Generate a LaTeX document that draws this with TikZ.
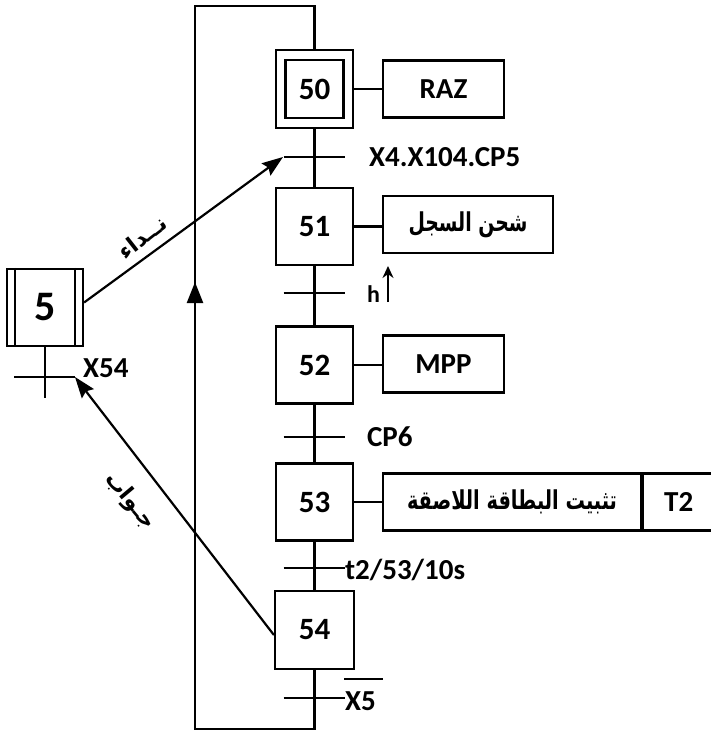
\documentclass[tikz,border=0pt]{standalone}
\usepackage{fontspec}
\setmainfont{Carlito}
\newfontfamily\arabicfont[Script=Arabic]{DejaVu Sans}
\TeXXeTstate=1
\usetikzlibrary{arrows.meta,calc}
\begin{document}
\begin{tikzpicture}[x=1pt,y=-1pt, line width=2.2pt,
 stepbox/.style={draw, minimum width=77pt, minimum height=77pt, inner sep=0pt, font=\fontsize{31}{31}\selectfont\bfseries},
 actbox/.style={draw, minimum height=57pt, inner sep=0pt, font=\fontsize{29}{29}\selectfont\bfseries},
 lbl/.style={inner sep=0pt, font=\fontsize{29}{29}\selectfont\bfseries},
 arfont/.style={font=\arabicfont\bfseries\fontsize{22}{22}\selectfont},
 comarrow/.style={-{Stealth[length=21pt,width=15pt,inset=3pt]}},
 bigarrow/.style={-{Triangle[length=21pt,width=16pt]}},
]
\useasboundingbox (0,0) rectangle (710,733);

% steps
\node[stepbox, minimum height=78pt] (s50) at (314.5,89) {};
\node[stepbox, minimum width=58pt, minimum height=58pt] (s50i) at (314.5,89) {50};
\node[stepbox] (s51) at (314.5,226.5) {51};
\node[stepbox] (s52) at (314.5,365) {52};
\node[stepbox] (s53) at (314.5,502) {53};
\node[stepbox, minimum width=79pt, minimum height=78pt] (s54) at (314.5,630) {54};
\node[stepbox, minimum width=76pt, font=\fontsize{42}{42}\selectfont\bfseries] (s5) at (45,307.5) {5};
\draw ($(s5.north west)+(9,0)$) -- ($(s5.south west)+(9,0)$);
\draw ($(s5.north east)+(-9,0)$) -- ($(s5.south east)+(-9,0)$);

% actions
\node[actbox, minimum width=121pt] (a50) at (443.5,89) {RAZ};
\node[actbox, minimum width=170pt] (a51) at (468,224.5) {\resizebox{119pt}{\height}{\arabicfont\bfseries\fontsize{26}{26}\selectfont\beginR شحن السجل\endR}};
\node[actbox, minimum width=121pt] (a52) at (443.5,364) {MPP};
\node[actbox, minimum width=258pt] (a53) at (512,502) {\resizebox{210pt}{\height}{\arabicfont\bfseries\fontsize{26}{26}\selectfont\beginR تثبيت البطاقة اللاصقة\endR}};
\node[actbox, minimum width=71pt, anchor=west] (at2) at (a53.east) {T2};

\draw (s50.east) -- (a50.west);
\draw (s51.east) -- (s51.east -| a51.west);
\draw (s52.east) -- (s52.east -| a52.west);
\draw (s53.east) -- (a53.west);

% main links
\draw (s50.south) -- (s51.north);
\draw (s51.south) -- (s52.north);
\draw (s52.south) -- (s53.north);
\draw (s53.south) -- (s54.north);

% transitions
\coordinate (t1) at (314.5,157);
\coordinate (t2c) at (314.5,293);
\coordinate (t3) at (314.5,437);
\coordinate (t4) at (314.5,568);
\coordinate (t5) at (314.5,698);
\foreach \t in {t1,t2c,t3,t4,t5}{\draw ($(\t)+(-31,0)$) -- ($(\t)+(30,0)$);}
\coordinate (t1l) at (283,157);

\node[lbl, anchor=west] (l1) at (368,157.5) {X4.X104.CP5};
\node[lbl, anchor=base west, font=\fontsize{24}{24}\selectfont\bfseries] (l2) at (366,302) {h};
\coordinate (hb) at (388,302);
\coordinate (ht) at (388,266);
\draw[line width=2pt, -{Stealth[length=12pt,width=11pt]}] (hb) -- (ht);
\node[lbl, anchor=west] (l3) at (366,437) {CP6};
\node[lbl, anchor=base west] (l4) at (344,579) {t2/53/10s};
\node[lbl, anchor=base west] (l5) at (344,710) {X5};
\draw[line width=1.8pt] ($(l5.north west)+(0,-11)$) -- ($(l5.north east)+(6,-11)$);

% step 5 transition
\coordinate (s5end) at (45,398);
\draw (s5.south) -- (s5end);
\coordinate (t0l) at (14,377);
\coordinate (t0r) at (75,377);
\draw (t0l) -- (t0r);
\node[lbl, anchor=base west] (l0) at (82,377) {X54};

% loop back
\coordinate (lbl0) at (195,729);
\coordinate (ltl) at (195,6);
\draw (s54.south) |- (lbl0) -- (ltl) -| (s50.north);
\coordinate (la1) at (195,320);
\coordinate (la2) at (195,282);
\draw[bigarrow] (la1) -- (la2);

% communication arrows
\draw[comarrow] ($(s5.east)+(0,-5)$) -- (t1l);
\draw[comarrow] ($(s54.west)+(0,5)$) -- (t0r);
\node[arfont, rotate=38, inner sep=0pt] (nida) at (142,237) {\beginR نــداء\endR};
\node[arfont, rotate=-50, inner sep=0pt] (jawab) at (130,501) {\beginR جـواب\endR};
\end{tikzpicture}
\end{document}
